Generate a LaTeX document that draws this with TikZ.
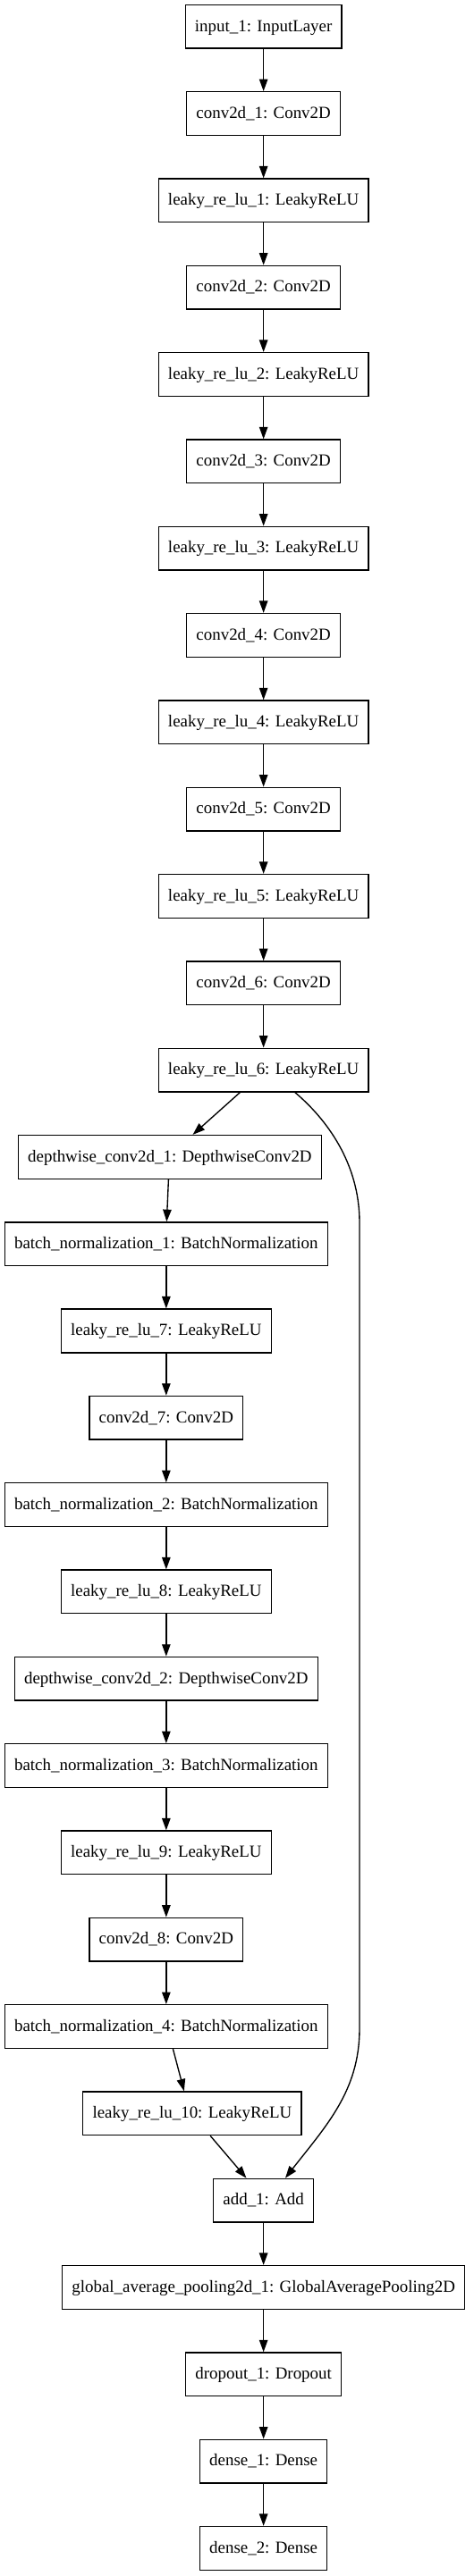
\documentclass[tikz,border=0pt]{standalone}
\usepackage{fontspec}
\setmainfont{Liberation Serif}
\usetikzlibrary{arrows.meta,calc}
\begin{document}
\begin{tikzpicture}[x=1pt,y=-1pt,
  layer/.style={draw=black,line width=1pt,minimum height=36pt,inner xsep=7.92pt,
    font=\fontsize{14}{16}\selectfont,text height=10pt,text depth=2.2pt},
  arr/.style={line width=1pt,-{Triangle[length=10pt,width=7pt]}}]
\useasboundingbox (0,0) rectangle (392,2133);
% main column
\node[layer] (n0)  at (218,22)   {input\_1: InputLayer};
\node[layer] (n1)  at (218,94)   {conv2d\_1: Conv2D};
\node[layer] (n2)  at (218,166)  {leaky\_re\_lu\_1: LeakyReLU};
\node[layer] (n3)  at (218,238)  {conv2d\_2: Conv2D};
\node[layer] (n4)  at (218,310)  {leaky\_re\_lu\_2: LeakyReLU};
\node[layer] (n5)  at (218,382)  {conv2d\_3: Conv2D};
\node[layer] (n6)  at (218,454)  {leaky\_re\_lu\_3: LeakyReLU};
\node[layer] (n7)  at (218,526)  {conv2d\_4: Conv2D};
\node[layer] (n8)  at (218,598)  {leaky\_re\_lu\_4: LeakyReLU};
\node[layer] (n9)  at (218,670)  {conv2d\_5: Conv2D};
\node[layer] (n10) at (218,742)  {leaky\_re\_lu\_5: LeakyReLU};
\node[layer] (n11) at (218,814)  {conv2d\_6: Conv2D};
\node[layer] (n12) at (218,886)  {leaky\_re\_lu\_6: LeakyReLU};
% side column
\node[layer] (n13) at (140.5,958)  {depthwise\_conv2d\_1: DepthwiseConv2D};
\node[layer] (n14) at (137.5,1030) {batch\_normalization\_1: BatchNormalization};
\node[layer] (n15) at (137.5,1102) {leaky\_re\_lu\_7: LeakyReLU};
\node[layer] (n16) at (137.5,1174) {conv2d\_7: Conv2D};
\node[layer] (n17) at (137.5,1246) {batch\_normalization\_2: BatchNormalization};
\node[layer] (n18) at (137.5,1318) {leaky\_re\_lu\_8: LeakyReLU};
\node[layer] (n19) at (137.5,1390) {depthwise\_conv2d\_2: DepthwiseConv2D};
\node[layer] (n20) at (137.5,1462) {batch\_normalization\_3: BatchNormalization};
\node[layer] (n21) at (137.5,1534) {leaky\_re\_lu\_9: LeakyReLU};
\node[layer] (n22) at (137.5,1606) {conv2d\_8: Conv2D};
\node[layer] (n23) at (137.5,1678) {batch\_normalization\_4: BatchNormalization};
\node[layer] (n24) at (159,1750)   {leaky\_re\_lu\_10: LeakyReLU};
% tail
\node[layer] (n25) at (218,1822) {add\_1: Add};
\node[layer] (n26) at (218,1894) {global\_average\_pooling2d\_1: GlobalAveragePooling2D};
\node[layer] (n27) at (218,1966) {dropout\_1: Dropout};
\node[layer] (n28) at (218,2038) {dense\_1: Dense};
\node[layer] (n29) at (218,2110) {dense\_2: Dense};
% edges
\foreach \a/\b in {n0/n1,n1/n2,n2/n3,n3/n4,n4/n5,n5/n6,n6/n7,n7/n8,n8/n9,n9/n10,n10/n11,n11/n12,
  n14/n15,n15/n16,n16/n17,n17/n18,n18/n19,n19/n20,n20/n21,n21/n22,n22/n23,
  n25/n26,n26/n27,n27/n28,n28/n29}
  \draw[arr] (\a) -- (\b);
\draw[arr] ($(n12.south)+(-19.4,0)$) -- ($(n13.north)+(19,0)$);
\draw[arr] ($(n13.south)+(-1.1,0)$) -- ($(n14.north)+(0.4,0)$);
\draw[arr] ($(n23.south)+(5.6,0)$) -- ($(n24.north)+(-6.7,0)$);
\draw[arr] ($(n24.south)+(15,0)$) -- ($(n25.north)+(-14.2,0)$);
\coordinate (skipA) at (297.4,1012);
\coordinate (skipB) at (297.4,1680);
\draw[arr] ($(n12.south)+(26,0)$) .. controls +(26,22) and (297.4,963) .. (skipA)
  -- (skipB) .. controls (297.4,1731) and (270,1760) .. ($(n25.north)+(18,0)$);
\end{tikzpicture}
\end{document}
